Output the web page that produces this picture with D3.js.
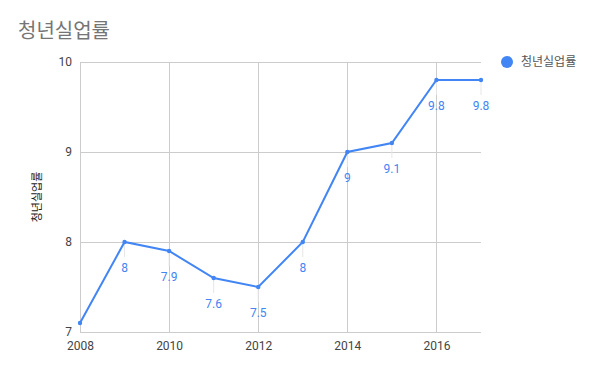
<!DOCTYPE html>
<html>
<head>
<meta charset="utf-8">
<script src="https://cdn.jsdelivr.net/npm/d3@7"></script>
<style>
  body { margin: 0; background: #fff; }
  svg { font-family: Roboto, "Noto Sans CJK KR", sans-serif; }
</style>
</head>
<body>
<div id="chart"></div>
<script>
// data
var years = [2008, 2009, 2010, 2011, 2012, 2013, 2014, 2015, 2016, 2017];
var rates = [7.1, 8, 7.9, 7.6, 7.5, 8, 9, 9.1, 9.8, 9.8];
var yTicks = [7, 8, 9, 10];
var xTicks = [2008, 2010, 2012, 2014, 2016];
var seriesName = "청년실업률";

var W = 600, H = 371;
var margin = { top: 62, right: 119, bottom: 39, left: 80 };
var width = W - margin.left - margin.right;
var height = H - margin.top - margin.bottom;
var blue = "#4285f4";

var svg = d3.select("#chart").append("svg")
    .attr("width", W)
    .attr("height", H);

// title
svg.append("text")
    .attr("x", 18)
    .attr("y", 38)
    .attr("font-size", 20)
    .attr("fill", "#757575")
    .text(seriesName);

var g = svg.append("g")
    .attr("transform", "translate(" + margin.left + "," + margin.top + ")");

var x = d3.scaleLinear().domain([2008, 2017]).range([0, width]);
var y = d3.scaleLinear().domain([7, 10]).range([height, 0]);

// gridlines
g.selectAll(".hgrid").data(yTicks).enter().append("line")
    .attr("class", "hgrid")
    .attr("x1", 0).attr("x2", width)
    .attr("y1", d => y(d)).attr("y2", d => y(d))
    .attr("stroke", "#cccccc").attr("stroke-width", 1)
    .attr("shape-rendering", "crispEdges");

g.selectAll(".vgrid").data(xTicks).enter().append("line")
    .attr("class", "vgrid")
    .attr("x1", d => x(d)).attr("x2", d => x(d))
    .attr("y1", 0).attr("y2", height)
    .attr("stroke", "#cccccc").attr("stroke-width", 1)
    .attr("shape-rendering", "crispEdges");

// axes (labels only)
var yAxis = d3.axisLeft(y).tickValues(yTicks).tickSize(0).tickPadding(8).tickFormat(d3.format("d"));
var yG = g.append("g").call(yAxis);
yG.select(".domain").remove();
yG.selectAll("text").attr("font-size", 12).attr("fill", "#444").attr("font-family", "Roboto");

var xAxis = d3.axisBottom(x).tickValues(xTicks).tickSize(0).tickPadding(9).tickFormat(d3.format("d"));
var xG = g.append("g").attr("transform", "translate(0," + height + ")").call(xAxis);
xG.select(".domain").remove();
xG.selectAll("text").attr("font-size", 12).attr("fill", "#444").attr("font-family", "Roboto");

// y axis title
svg.append("text")
    .attr("transform", "translate(41," + (margin.top + height / 2) + ") rotate(-90)")
    .attr("text-anchor", "middle")
    .attr("font-size", 11)
    .attr("fill", "#222")
    .text(seriesName);

// leader lines to labels
var pts = years.map((d, i) => ({ year: d, v: rates[i], i: i }));
g.selectAll(".leader").data(pts.filter(d => d.i > 0)).enter().append("line")
    .attr("x1", d => x(d.year)).attr("x2", d => x(d.year))
    .attr("y1", d => y(d.v)).attr("y2", d => y(d.v) + 15)
    .attr("stroke", "#e6e6e6").attr("stroke-width", 1);

// line
var line = d3.line().x(d => x(d.year)).y(d => y(d.v));
g.append("path")
    .datum(pts)
    .attr("fill", "none")
    .attr("stroke", blue)
    .attr("stroke-width", 2)
    .attr("d", line);

g.selectAll(".dot").data(pts).enter().append("circle")
    .attr("cx", d => x(d.year)).attr("cy", d => y(d.v))
    .attr("r", 2.2)
    .attr("fill", blue);

// data labels
g.selectAll(".lbl").data(pts.filter(d => d.i > 0)).enter().append("text")
    .attr("x", d => x(d.year)).attr("y", d => y(d.v) + 30)
    .attr("text-anchor", "middle")
    .attr("font-size", 12)
    .attr("fill", blue)
    .attr("font-family", "Roboto")
    .text(d => d.v);

// legend
svg.append("circle")
    .attr("cx", 507).attr("cy", 62).attr("r", 6)
    .attr("fill", blue);
svg.append("text")
    .attr("x", 521).attr("y", 66)
    .attr("font-size", 12)
    .attr("fill", "#555")
    .text(seriesName);
</script>
</body>
</html>
